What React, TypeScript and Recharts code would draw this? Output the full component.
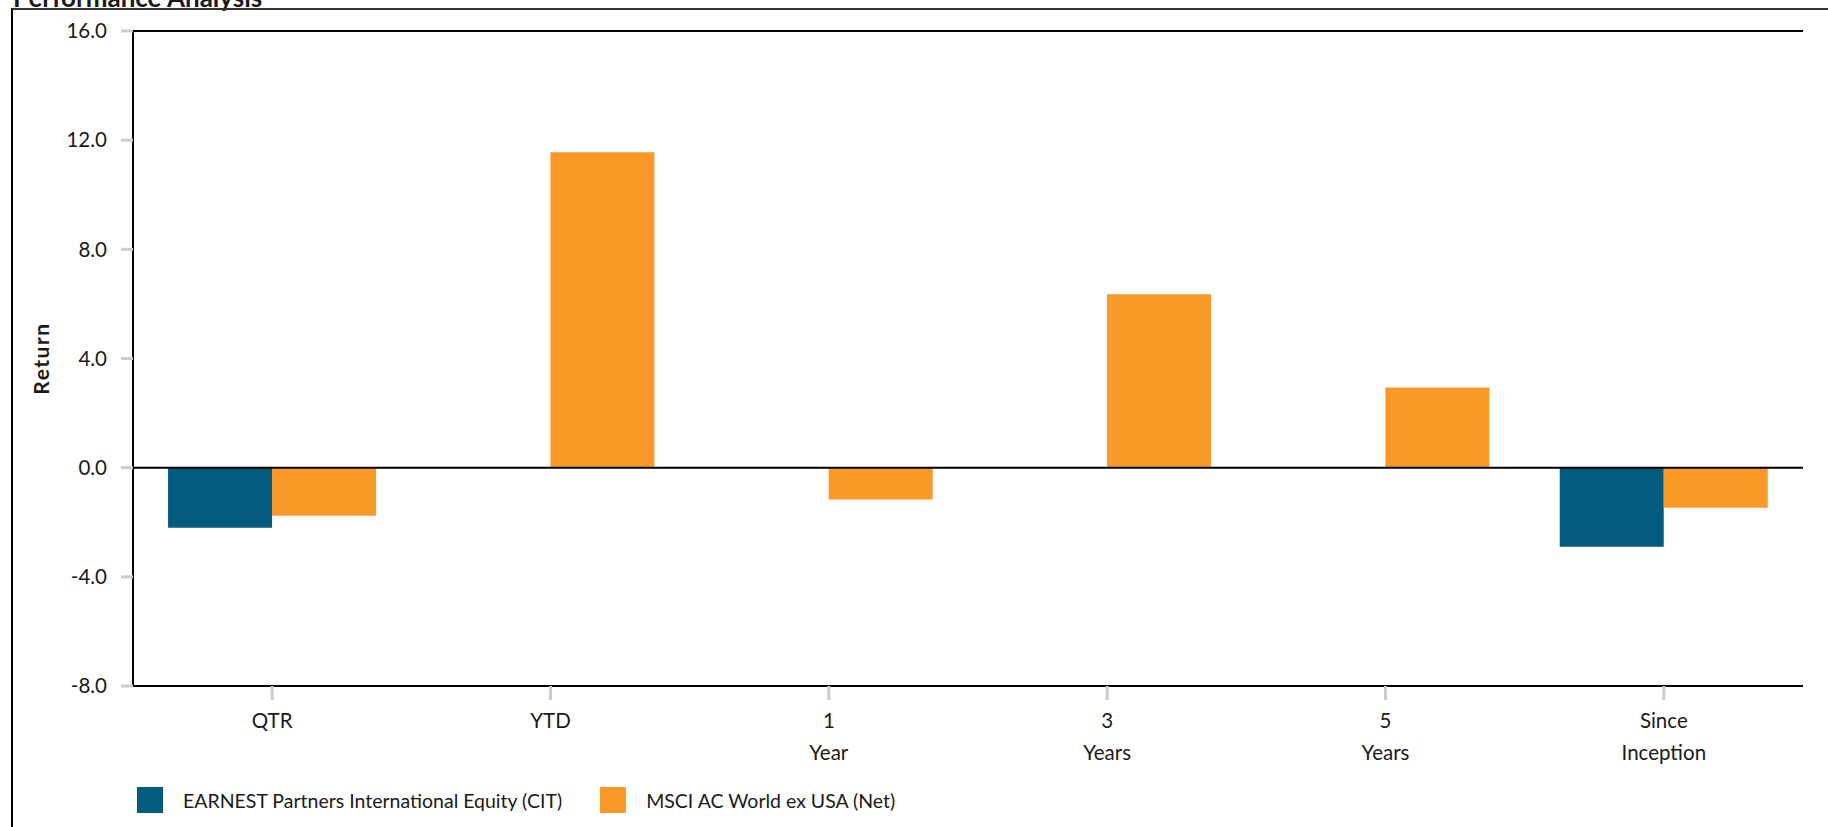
import React from 'react';
import { BarChart, Bar, XAxis, YAxis, ReferenceLine, Label } from 'recharts';

// categories / series
const categories = ['QTR', 'YTD', '1\nYear', '3\nYears', '5\nYears', 'Since\nInception'];
const earnestReturns: (number | null)[] = [-2.2, null, null, null, null, -2.9];
const msciReturns: (number | null)[] = [-1.76, 11.56, -1.17, 6.35, 2.94, -1.47];
const yTicks = [-8, -4, 0, 4, 8, 12, 16];

const series = [
  { key: 'earnest', name: 'EARNEST Partners International Equity (CIT)', color: '#035b7d' },
  { key: 'msci', name: 'MSCI AC World ex USA (Net)', color: '#fa9828' },
];

const chartData = categories.map((c, i) => ({
  name: c,
  earnest: earnestReturns[i],
  msci: msciReturns[i],
}));

const FONT = 'Lato, "Open Sans", sans-serif';
const TEXT = '#1a1a1a';
const TICK_GREY = '#c9cdd2';

/** Multi-line category tick */
const CategoryTick = ({ x, y, payload }: any) => {
  const lines = String(payload.value).split('\n');
  return (
    <text x={x} y={y} textAnchor="middle" fontSize={20.5} fill={TEXT}>
      {lines.map((l, i) => (
        <tspan key={i} x={x} dy={i === 0 ? '0.71em' : 32}>
          {l}
        </tspan>
      ))}
    </text>
  );
};

const ReturnLabel = (props: any) => {
  const vb = props.viewBox || { x: 0, y: 0, width: 0, height: 0 };
  const cx = vb.x + 40;
  const cy = vb.y + vb.height / 2;
  return (
    <text
      x={cx}
      y={cy}
      transform={`rotate(-90 ${cx} ${cy})`}
      textAnchor="middle"
      dominantBaseline="central"
      fontWeight="bold"
      fontSize={21}
      letterSpacing={1.5}
      fill={TEXT}
    >
      Return
    </text>
  );
};

export default function App() {
  return (
    <div style={{ position: 'relative', width: 1828, height: 827, overflow: 'hidden', fontFamily: FONT, background: '#fff' }}>
      <style>{'body{margin:0}'}</style>

      {/* Title, mostly cropped off the top */}
      <div style={{ position: 'absolute', left: 13, top: -16, fontSize: 26, fontWeight: 'bold', lineHeight: 1, color: TEXT }}>
        Performance Analysis
      </div>

      {/* outer frame */}
      <div style={{ position: 'absolute', left: 11, top: 8, width: 1830, height: 830, borderLeft: '2px solid #000', borderTop: '2px solid #333' }} />

      <div style={{ position: 'absolute', left: 0, top: 0 }}>
        <BarChart
          width={1828}
          height={827}
          data={chartData}
          margin={{ top: 31, right: 25, bottom: 81, left: 0 }}
          barCategoryGap="12.6%"
          barGap={0}
        >
          <XAxis
            dataKey="name"
            interval={0}
            height={60}
            tick={<CategoryTick />}
            tickSize={14}
            tickMargin={13}
            tickLine={{ stroke: TICK_GREY, strokeWidth: 3 }}
            axisLine={{ stroke: '#000', strokeWidth: 2 }}
          />
          <YAxis
            type="number"
            domain={[-8, 16]}
            ticks={yTicks}
            interval={0}
            width={133}
            tickFormatter={(v: number) => v.toFixed(1)}
            tick={{ fontSize: 20.5, fill: TEXT }}
            tickSize={12}
            tickMargin={14}
            tickLine={{ stroke: TICK_GREY, strokeWidth: 3 }}
            axisLine={{ stroke: '#000', strokeWidth: 2 }}
          >
            <Label content={<ReturnLabel />} />
          </YAxis>
          <YAxis
            yAxisId="right"
            orientation="right"
            type="number"
            domain={[-8, 16]}
            width={0}
            tick={false}
            tickLine={false}
            axisLine={{ stroke: '#000', strokeWidth: 3 }}
          />
          {series.map((s) => (
            <Bar key={s.key} dataKey={s.key} name={s.name} fill={s.color} isAnimationActive={false} />
          ))}
          <ReferenceLine y={0} stroke="#000" strokeWidth={2} />
          {/* top edge of the plot frame */}
          <ReferenceLine y={16} stroke="#000" strokeWidth={2} />
        </BarChart>
      </div>

      {/* Legend */}
      <div style={{ position: 'absolute', left: 137, top: 787, display: 'flex', alignItems: 'center', gap: 38 }}>
        {series.map((s) => (
          <div key={s.key} style={{ display: 'flex', alignItems: 'center', gap: 20 }}>
            <div style={{ width: 26, height: 26, background: s.color }} />
            <span style={{ fontSize: 19.5, color: TEXT }}>{s.name}</span>
          </div>
        ))}
      </div>
    </div>
  );
}
